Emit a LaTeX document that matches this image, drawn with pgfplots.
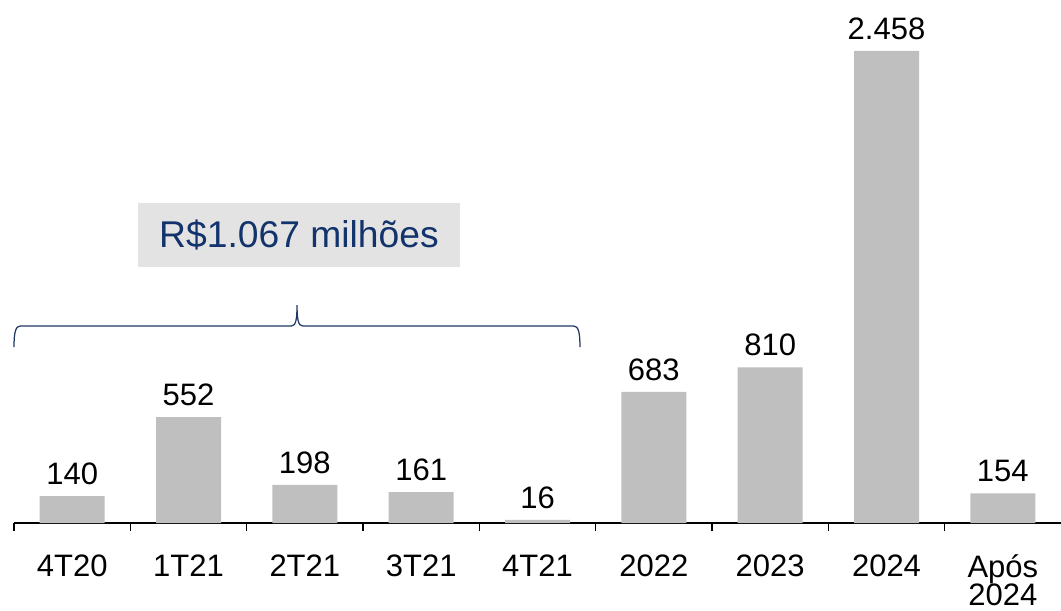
\documentclass[border=0pt]{standalone}
\usepackage{pgfplots}
\pgfplotsset{compat=1.18}
\usepackage{pgfplotstable}
\usepackage{fontspec}
\setmainfont{Liberation Sans}
\definecolor{bargray}{HTML}{BFBFBF}
\definecolor{boxgray}{HTML}{E3E3E3}
\definecolor{navy}{HTML}{12336B}
\definecolor{bracecol}{HTML}{1F3864}
\pgfplotstableread{
x y lab
0 140 140
1 552 552
2 198 198
3 161 161
4 16 16
5 683 683
6 810 810
7 2458 2.458
8 154 154
}\datatab
\begin{document}
\begin{tikzpicture}
\useasboundingbox (-5.6pt,-34.8pt) rectangle (418.8pt,209.2pt);
\begin{axis}[
  at={(0,0)}, anchor=south west,
  scale only axis,
  width=418.8pt, height=207.4pt,
  xmin=-0.5, xmax=8.5, ymin=0, ymax=2700,
  axis x line=bottom, axis y line=none,
  axis line style={line width=0.6pt, black, -},
  xtick={0,...,8},
  xticklabels={4T20,1T21,2T21,3T21,4T21,2022,2023,2024,{Após\\[-2.6pt]2024}},
  major tick length=0pt,
  minor xtick={-0.5,0.5,...,7.5},
  minor tick length=3.2pt,
  tick align=outside,
  minor tick style={line width=0.6pt, black},
  xticklabel style={anchor=north, inner sep=0pt, yshift=-12.4pt, align=center,
     font=\fontsize{12.4}{14}\selectfont},
  clip=false,
]
\addplot[ybar, bar width=26pt, fill=bargray, draw=none,
  point meta=explicit symbolic,
  nodes near coords,
  every node near coord/.style={anchor=south, inner sep=0pt, yshift=4.4pt,
     font=\fontsize{12.4}{14}\selectfont, black}]
  table[x=x, y=y, meta=lab] {\datatab};
\draw[bracecol, line width=0.5pt]
  (axis cs:-0.5,916) .. controls (axis cs:-0.5,995) and (axis cs:-0.485,1026) .. (axis cs:-0.445,1026)
  -- (axis cs:1.885,1026) .. controls (axis cs:1.922,1026) and (axis cs:1.933,1060) .. (axis cs:1.933,1135)
  .. controls (axis cs:1.933,1060) and (axis cs:1.944,1026) .. (axis cs:1.981,1026)
  -- (axis cs:4.31,1026) .. controls (axis cs:4.35,1026) and (axis cs:4.365,995) .. (axis cs:4.365,916);
\fill[boxgray] (axis cs:0.566,1333) rectangle (axis cs:3.334,1666);
\node[navy, font=\fontsize{14.9}{17}\selectfont] at (axis cs:1.95,1500) {R\$1.067 milhões};
\end{axis}
\end{tikzpicture}
\end{document}
